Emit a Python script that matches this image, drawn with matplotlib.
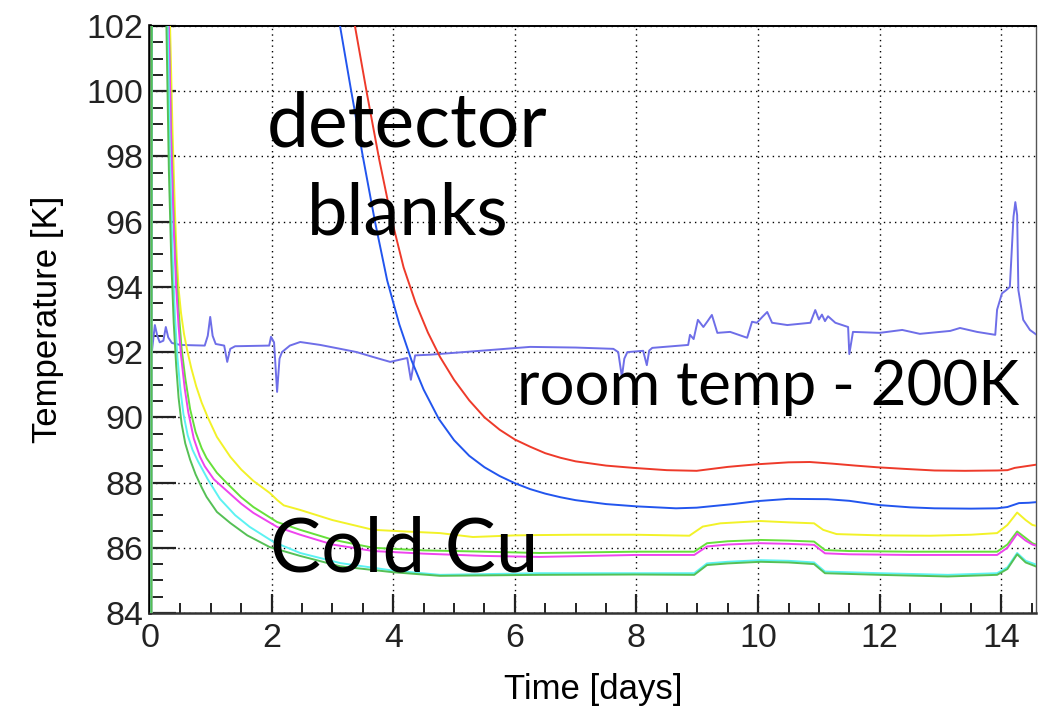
import matplotlib
matplotlib.use("Agg")
import matplotlib.pyplot as plt
from matplotlib.ticker import MultipleLocator

# ---- data -----------------------------------------------------------------
room_t = [0.0, 0.01, 0.03, 0.06, 0.08, 0.12, 0.16, 0.22, 0.26, 0.30, 0.36, 0.50,
          0.90, 0.95, 0.99, 1.03, 1.08, 1.22, 1.27, 1.32, 1.40, 1.96, 1.99, 2.04,
          2.09, 2.13, 2.17, 2.30, 2.47, 2.80, 3.13, 3.40, 3.67, 3.95, 4.23, 4.29,
          4.36, 4.60, 5.43, 6.25, 7.00, 7.62, 7.70, 7.76, 7.80, 7.85, 8.11, 8.17,
          8.21, 8.26, 8.85, 8.88, 8.94, 9.01, 9.10, 9.17, 9.24, 9.33, 9.54, 9.82,
          9.90, 9.98, 10.07, 10.15, 10.23, 10.48, 10.86, 10.94, 11.00, 11.05,
          11.10, 11.15, 11.27, 11.48, 11.50, 11.56, 12.00, 12.37, 12.66, 13.16,
          13.32, 13.60, 13.90, 13.93, 14.01, 14.08, 14.14, 14.20, 14.23, 14.26,
          14.28, 14.36, 14.47, 14.58]
room_v = [93.4, 92.2, 92.0, 92.5, 92.83, 92.5, 92.3, 92.35, 92.77, 92.45, 92.28, 92.22,
          92.2, 92.5, 93.08, 92.5, 92.25, 92.2, 91.7, 92.1, 92.18, 92.2, 92.47, 92.3,
          90.78, 91.8, 92.0, 92.2, 92.31, 92.22, 92.1, 92.0, 91.85, 91.7, 91.82, 91.15,
          91.9, 91.92, 92.04, 92.16, 92.14, 92.1, 92.0, 91.24, 91.8, 92.0, 92.04, 91.6,
          92.05, 92.13, 92.22, 92.53, 92.4, 92.99, 92.77, 92.95, 93.14, 92.59, 92.62, 92.44,
          92.93, 92.9, 93.08, 93.23, 92.9, 92.83, 92.9, 93.29, 93.0, 93.15,
          92.95, 93.1, 92.9, 92.77, 91.94, 92.62, 92.59, 92.68, 92.56, 92.65,
          92.74, 92.62, 92.53, 93.3, 93.8, 93.9, 94.0, 96.15, 96.6, 96.2,
          93.9, 92.99, 92.68, 92.53]

det_red_t = [3.30, 3.37, 3.57, 3.77, 3.97, 4.17, 4.37, 4.57, 4.77, 5.00, 5.25, 5.50,
             5.75, 6.00, 6.25, 6.50, 6.75, 7.00, 7.50, 7.95, 8.50, 8.99, 9.50, 9.98,
             10.50, 10.85, 11.22, 11.60, 11.95, 12.40, 12.90, 13.40, 13.93, 14.10,
             14.22, 14.40, 14.58]
det_red_v = [102.7, 102.0, 99.9, 97.9, 96.1, 94.6, 93.5, 92.6, 91.85, 91.15, 90.52, 90.0,
             89.62, 89.32, 89.1, 88.9, 88.76, 88.65, 88.52, 88.45, 88.38, 88.36, 88.48, 88.56,
             88.62, 88.63, 88.58, 88.52, 88.47, 88.42, 88.37, 88.36, 88.37, 88.38,
             88.45, 88.5, 88.55]

det_blue_t = [3.05, 3.125, 3.30, 3.50, 3.70, 3.90, 4.10, 4.30, 4.50, 4.75, 5.00, 5.25,
              5.50, 5.75, 6.00, 6.25, 6.50, 6.75, 7.00, 7.50, 8.00, 8.65, 8.99, 9.59,
              9.98, 10.50, 11.14, 11.50, 11.99, 12.50, 12.90, 13.50, 13.93, 14.10,
              14.29, 14.45, 14.58]
det_blue_v = [102.8, 102.0, 100.1, 98.0, 96.0, 94.2, 92.85, 91.75, 90.85, 89.95, 89.3, 88.82,
              88.47, 88.2, 87.98, 87.8, 87.66, 87.55, 87.46, 87.34, 87.27, 87.21, 87.23, 87.34,
              87.43, 87.5, 87.49, 87.44, 87.31, 87.24, 87.21, 87.2, 87.21, 87.25,
              87.37, 87.38, 87.4]

cu_yellow_t = [0.02, 0.04, 0.33, 0.37, 0.41, 0.44, 0.47, 0.51, 0.56, 0.61, 0.68, 0.76,
               0.85, 0.95, 1.10, 1.32, 1.50, 1.70, 1.97, 2.10, 2.20, 2.47, 3.00, 3.67,
               4.20, 4.77, 5.31, 6.00, 6.41, 7.00, 7.99, 8.87, 9.09, 9.38, 10.04, 10.50,
               10.92, 11.07, 11.29, 12.00, 12.83, 13.50, 13.93, 14.10, 14.26, 14.40,
               14.51, 14.58]
cu_yellow_v = [80.0, 130.0, 102.0, 98.8, 96.3, 94.9, 93.95, 93.2, 92.55, 92.07, 91.5, 90.95,
               90.45, 90.0, 89.4, 88.79, 88.4, 88.05, 87.68, 87.45, 87.3, 87.16, 86.85, 86.55,
               86.5, 86.45, 86.33, 86.38, 86.39, 86.4, 86.4, 86.37, 86.65, 86.75, 86.82, 86.78,
               86.75, 86.55, 86.42, 86.38, 86.37, 86.4, 86.45, 86.7, 87.08, 86.85,
               86.7, 86.67]

cu_green_t = [0.02, 0.04, 0.31, 0.35, 0.39, 0.43, 0.47, 0.52, 0.58, 0.66, 0.75, 0.85,
              0.93, 1.10, 1.26, 1.50, 1.70, 2.09, 2.47, 3.00, 3.67, 4.50, 5.50, 6.41,
              7.99, 8.95, 9.16, 9.50, 10.04, 10.50, 10.92, 11.10, 11.50, 12.50, 13.50,
              13.93, 14.10, 14.26, 14.40, 14.51, 14.58]
cu_green_v = [80.0, 130.0, 102.0, 98.6, 96.2, 94.5, 93.3, 92.1, 91.2, 90.25, 89.55, 89.05,
              88.75, 88.3, 87.99, 87.55, 87.25, 86.79, 86.55, 86.25, 86.0, 85.92, 85.88, 85.84,
              85.88, 85.88, 86.14, 86.2, 86.24, 86.22, 86.19, 85.93, 85.9, 85.88, 85.88,
              85.88, 86.1, 86.5, 86.3, 86.14, 86.09]

cu_magenta_t = [0.02, 0.04, 0.31, 0.35, 0.39, 0.43, 0.47, 0.51, 0.57, 0.63, 0.72, 0.82,
                0.90, 1.05, 1.26, 1.50, 1.70, 2.09, 2.47, 3.00, 3.67, 4.50, 5.50, 6.41,
                7.99, 8.95, 9.16, 9.50, 10.04, 10.50, 10.92, 11.10, 11.50, 12.50, 13.50,
                13.93, 14.10, 14.26, 14.40, 14.51, 14.58]
cu_magenta_v = [80.0, 130.0, 102.0, 98.3, 95.8, 94.0, 92.8, 91.9, 90.9, 90.15, 89.35, 88.8,
                88.5, 88.1, 87.75, 87.35, 87.07, 86.64, 86.4, 86.1, 85.9, 85.82, 85.75, 85.72,
                85.78, 85.78, 86.04, 86.1, 86.14, 86.12, 86.09, 85.83, 85.8, 85.78, 85.78,
                85.78, 86.0, 86.43, 86.22, 86.1, 86.06]

cu_cyan_t = [0.02, 0.04, 0.29, 0.33, 0.37, 0.41, 0.45, 0.50, 0.55, 0.62, 0.70, 0.79,
             0.95, 1.15, 1.40, 1.64, 2.03, 2.47, 3.13, 4.00, 4.77, 6.41, 7.99, 8.95,
             9.16, 9.50, 10.04, 10.50, 10.92, 11.10, 12.00, 13.12, 13.93, 14.10, 14.26,
             14.40, 14.58]
cu_cyan_v = [80.0, 130.0, 102.0, 97.8, 95.0, 93.1, 91.85, 90.85, 90.1, 89.45, 89.0, 88.65,
             88.1, 87.5, 87.0, 86.64, 86.18, 85.84, 85.53, 85.3, 85.17, 85.22, 85.22, 85.22,
             85.52, 85.57, 85.62, 85.6, 85.55, 85.27, 85.22, 85.17, 85.22, 85.4, 85.84,
             85.6, 85.48]

cu_dkgreen_t = [0.02, 0.04, 0.27, 0.31, 0.35, 0.39, 0.43, 0.47, 0.52, 0.58, 0.66, 0.75,
                0.85, 0.93, 1.10, 1.32, 1.60, 1.97, 2.47, 3.13, 4.00, 4.77, 6.41, 7.99,
                8.95, 9.16, 9.50, 10.04, 10.50, 10.92, 11.10, 12.00, 13.12, 13.93, 14.10,
                14.26, 14.40, 14.58]
cu_dkgreen_v = [80.0, 130.0, 102.0, 97.6, 94.8, 92.9, 91.6, 90.6, 89.8, 89.2, 88.7, 88.25,
                87.85, 87.56, 87.1, 86.76, 86.38, 86.02, 85.75, 85.43, 85.25, 85.14, 85.17, 85.18,
                85.17, 85.47, 85.52, 85.57, 85.55, 85.5, 85.22, 85.17, 85.12, 85.17, 85.35,
                85.8, 85.55, 85.42]

x_ticks = [0, 2, 4, 6, 8, 10, 12, 14]
y_ticks = [84, 86, 88, 90, 92, 94, 96, 98, 100, 102]

# ---- figure ---------------------------------------------------------------
plt.rcParams['font.family'] = ['Liberation Sans', 'DejaVu Sans']
fig = plt.figure(figsize=(10.52, 7.07), dpi=100)
ax = fig.add_axes([150 / 1052, 94 / 707, 886 / 1052, 587 / 707])

lw = 1.4
ax.plot(room_t, room_v, color='#6e6ee8', lw=lw, zorder=3)
ax.plot(det_red_t, det_red_v, color='#ee3a2a', lw=lw, zorder=3)
ax.plot(det_blue_t, det_blue_v, color='#2255ee', lw=lw, zorder=3)
ax.plot(cu_yellow_t, cu_yellow_v, color='#f2f228', lw=lw, zorder=3)
ax.plot(cu_green_t, cu_green_v, color='#66e03a', lw=lw, zorder=3)
ax.plot(cu_magenta_t, cu_magenta_v, color='#ee44ee', lw=lw, zorder=3)
ax.plot(cu_cyan_t, cu_cyan_v, color='#5cf2f2', lw=lw, zorder=3)
ax.plot(cu_dkgreen_t, cu_dkgreen_v, color='#55c055', lw=lw, zorder=3)

ax.set_xlim(0, 14.57)
ax.set_ylim(84, 102)
ax.set_xticks(x_ticks)
ax.set_yticks(y_ticks)
ax.xaxis.set_minor_locator(MultipleLocator(0.5))
ax.yaxis.set_minor_locator(MultipleLocator(0.5))

ax.grid(True, which='major', color='black', linestyle=(0, (1, 3)), lw=1.0, zorder=1)
ax.tick_params(which='both', direction='in', top=False, right=False, colors='#222222')
ax.tick_params(axis='y', which='major', length=19, width=1.6, labelsize=24.5, pad=5)
ax.tick_params(axis='y', which='minor', length=9.5, width=1.4)
ax.tick_params(axis='x', which='major', length=14, width=1.6, labelsize=24.5, pad=7)
ax.tick_params(axis='x', which='minor', length=7, width=1.4)

ax.spines['left'].set_linewidth(2.6)
ax.spines['left'].set_color('black')
ax.spines['bottom'].set_linewidth(1.8)
ax.spines['bottom'].set_color('#333333')
ax.spines['top'].set_linewidth(1.4)
ax.spines['top'].set_color('black')
ax.spines['right'].set_linewidth(1.0)
ax.spines['right'].set_color('#555555')

ax.set_xlabel('Time [days]', fontsize=25, labelpad=14)
ax.set_ylabel('Temperature [K]', fontsize=25, labelpad=16)

big = dict(family=['Lato', 'DejaVu Sans'], color='black', va='baseline',
           ha='left', zorder=5)
ax.text(1.92, 98.3, 'detector', fontsize=54, **big)
ax.text(2.58, 95.6, 'blanks', fontsize=52, **big)
ax.text(6.04, 90.38, 'room temp - 200K', fontsize=44.5, **big)
ax.text(1.97, 85.26, 'Cold Cu', fontsize=55, **big)

fig.savefig('out.png', dpi=100)
